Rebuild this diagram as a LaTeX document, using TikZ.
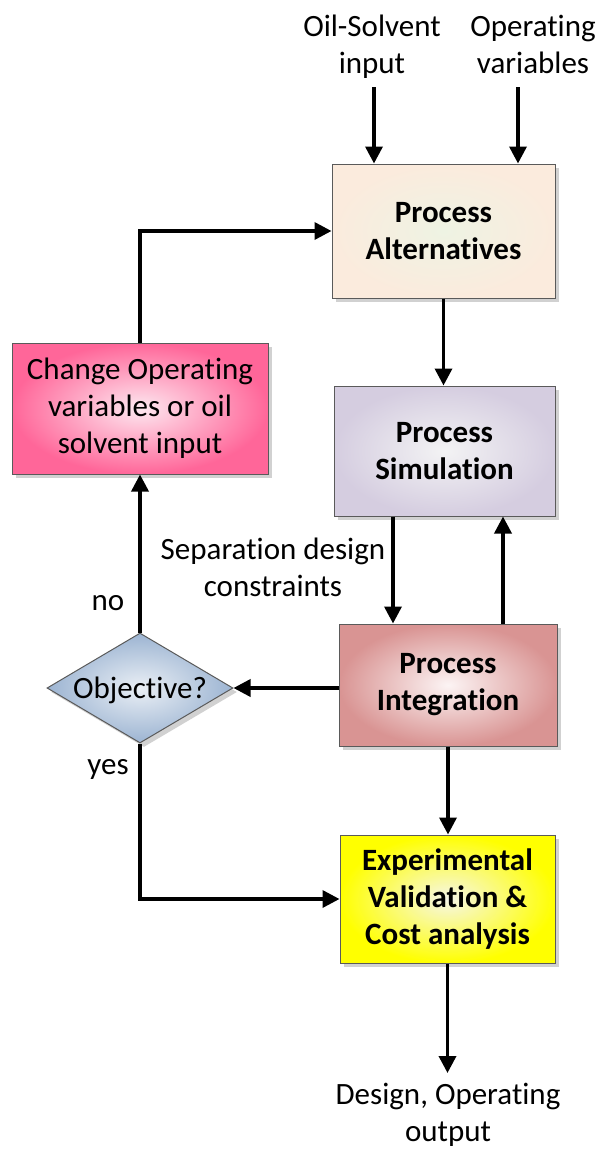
\documentclass[tikz,border=0pt]{standalone}
\usepackage{fontspec}
\setmainfont[RawFeature=-liga]{Carlito}
\usetikzlibrary{arrows.meta,shapes.geometric,shadows}

\definecolor{altOut}{HTML}{FBEBDD}
\definecolor{altIn}{HTML}{EEF3E3}
\definecolor{simOut}{HTML}{D5CDE0}
\definecolor{simIn}{HTML}{F3F3F4}
\definecolor{intOut}{HTML}{D99493}
\definecolor{intIn}{HTML}{FCF4F4}
\definecolor{chgOut}{HTML}{FF6699}
\definecolor{chgIn}{HTML}{FDE8F0}
\definecolor{objOut}{HTML}{9CB4D2}
\definecolor{objIn}{HTML}{EAEFF5}
\definecolor{expOut}{HTML}{FFFF00}
\definecolor{expIn}{HTML}{F6F6E8}
\definecolor{edge}{HTML}{5A5A5A}

\newcommand{\bodyfont}{\fontsize{31}{37}\selectfont}

\tikzset{
  txt/.style={font=\bodyfont, align=center, inner sep=1pt},
  procbox/.style={draw=edge, line width=1pt, shading=radial,
    inner color=#1In, outer color=#1Out,
    font=\bodyfont\bfseries, align=center, inner sep=0pt,
    drop shadow={shadow xshift=4pt, shadow yshift=-4pt, fill=black!18, opacity=1}},
  arr/.style={line width=3.5pt, -{Triangle[length=17pt,width=17pt]}}
}

\begin{document}
\begin{tikzpicture}[x=1pt, y=-1pt]
  \useasboundingbox (0,0) rectangle (600,1151);

  % process boxes
  \node[procbox=alt, minimum width=223pt, minimum height=134pt] (alt) at (443.5,231) {Process\\Alternatives};
  \node[procbox=sim, minimum width=221pt, minimum height=130pt] (sim) at (444.5,451) {Process\\Simulation};
  \node[procbox=int, minimum width=218pt, minimum height=122pt] (integ) at (448,685) {Process\\Integration};
  \node[procbox=exp, minimum width=215pt, minimum height=128pt] (exp) at (447.5,899) {Experimental\\Validation \&\\Cost analysis};
  \node[procbox=chg, minimum width=256pt, minimum height=131pt, font=\bodyfont] (chg) at (140,408.5) {Change Operating\\variables or oil\\solvent input};
  % decision: the diamond size is set explicitly, the label is kept out of the sizing
  \node[procbox=obj, diamond, minimum width=186pt, minimum height=110pt, font=\bodyfont] (obj) at (140,688)
    {\makebox[0pt]{\raisebox{-10pt}[0pt][0pt]{Objective?}}};

  % free labels
  \node[txt] (oil) at (372,47) {Oil-Solvent\\input};
  \node[txt] (opv) at (533,44) {Operating\\variables};
  \node[txt] (sep) at (273,567) {Separation design\\constraints};
  \node[txt] (no) at (108,603) {no};
  \node[txt] (yes) at (108,769) {yes};
  \node[txt] (out) at (448,1115) {Design, Operating\\output};
  \coordinate (oilTop) at (374,87);
  \coordinate (opvTop) at (518,87);
  \coordinate (outEnd) at (447.5,1073);

  % connectors
  \draw[arr] (oilTop) -- (oilTop |- alt.north);
  \draw[arr] (opvTop) -- (opvTop |- alt.north);
  \draw[arr] (alt.south) -- (alt.south |- sim.north);
  \draw[arr] ([xshift=-51.5pt]sim.south) -- ([xshift=-51.5pt]sim.south |- integ.north);
  \draw[arr] ([xshift=55pt]integ.north) -- ([xshift=55pt]integ.north |- sim.south);
  \draw[arr] (integ.west |- obj.east) -- (obj.east);
  \draw[arr] (obj.north) -- (chg.south);
  \draw[arr] (chg.north) |- (alt.west);
  \draw[arr] (obj.south) |- (exp.west);
  \draw[arr] (integ.south) -- (integ.south |- exp.north);
  \draw[arr] (exp.south) -- (outEnd);
\end{tikzpicture}
\end{document}
